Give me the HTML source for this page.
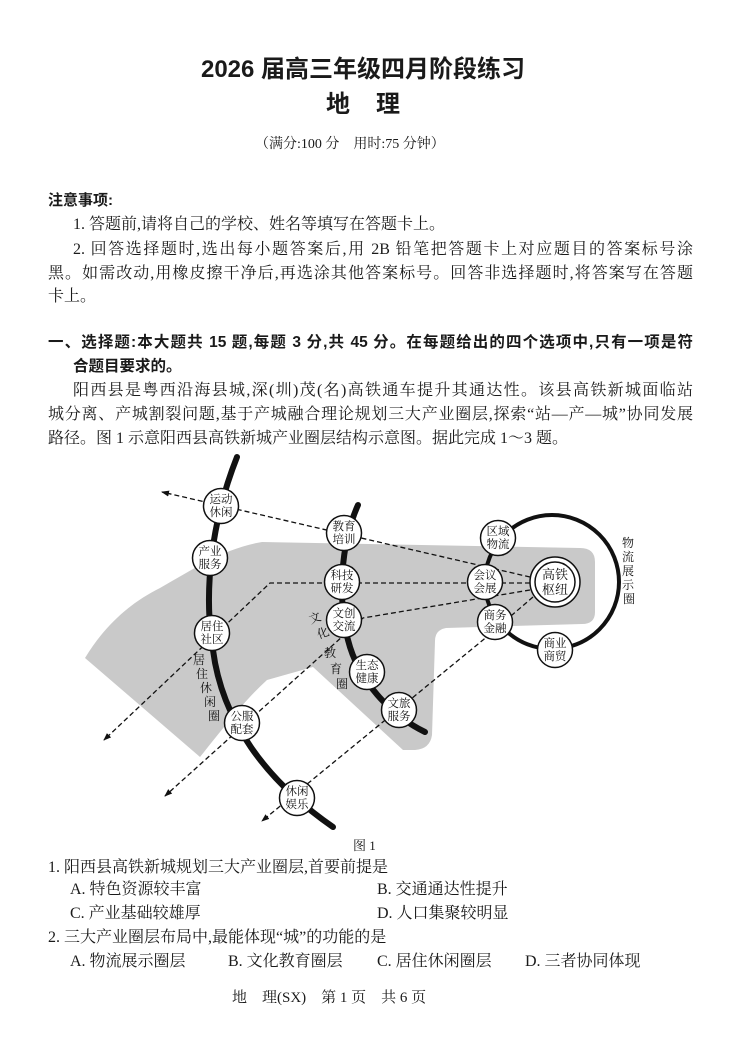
<!DOCTYPE html>
<html><head><meta charset="utf-8">
<style>
html,body{margin:0;padding:0;background:#fff;}
body{width:749px;height:1043px;position:relative;overflow:hidden;color:#1a1a1a;
font-family:"Liberation Serif","Noto Serif CJK SC",serif;font-size:16px;}
.t{position:absolute;line-height:22px;white-space:nowrap;}
.j{text-align:justify;text-align-last:justify;white-space:normal;height:22px;overflow:hidden;}
.b{font-family:"Liberation Sans","Noto Sans CJK SC",sans-serif;font-weight:bold;}
svg{position:absolute;left:0;top:0;}
svg text{font-family:"Liberation Serif","Noto Serif CJK SC",serif;fill:#111;}
</style></head><body>
<div class="t b" style="left:197px;top:56px;width:332px;font-size:24px;line-height:28px;text-align:center;">2026 届高三年级四月阶段练习</div>
<div class="t b" style="left:326px;top:91px;font-size:24px;line-height:28px;letter-spacing:26px;">地理</div>
<div class="t" style="left:255px;top:134px;font-size:14px;">（满分:100 分　用时:75 分钟）</div>

<div class="t b" style="left:48px;top:190px;font-size:15px;">注意事项:</div>
<div class="t" style="left:73px;top:214px;">1. 答题前,请将自己的学校、姓名等填写在答题卡上。</div>
<div class="t j" style="left:73px;top:239px;width:620px;">2. 回答选择题时,选出每小题答案后,用 2B 铅笔把答题卡上对应题目的答案标号涂</div>
<div class="t j" style="left:48px;top:263px;width:645px;">黑。如需改动,用橡皮擦干净后,再选涂其他答案标号。回答非选择题时,将答案写在答题</div>
<div class="t" style="left:48px;top:286px;">卡上。</div>

<div class="t j b" style="left:48px;top:332px;width:645px;font-size:15.5px;">一、选择题:本大题共 15 题,每题 3 分,共 45 分。在每题给出的四个选项中,只有一项是符</div>
<div class="t b" style="left:73px;top:356px;font-size:15.5px;">合题目要求的。</div>
<div class="t j" style="left:73px;top:380px;width:620px;">阳西县是粤西沿海县城,深(圳)茂(名)高铁通车提升其通达性。该县高铁新城面临站</div>
<div class="t j" style="left:48px;top:404px;width:645px;">城分离、产城割裂问题,基于产城融合理论规划三大产业圈层,探索“站—产—城”协同发展</div>
<div class="t" style="left:48px;top:428px;">路径。图 1 示意阳西县高铁新城产业圈层结构示意图。据此完成 1～3 题。</div>

<svg width="749" height="1043" viewBox="0 0 749 1043">
<defs>
<marker id="ah" markerWidth="8" markerHeight="8" refX="7" refY="4" orient="auto" markerUnits="userSpaceOnUse">
<path d="M0,1 L8,4 L0,7 Z" fill="#111"/></marker>
</defs>
<path d="M85,658 C105,625 130,603 160,588 C195,568 225,548 262,542 L580,548 Q595,548 595,562 L595,612 Q595,624 582,624 L446,628 Q435,630 435,641 L432,735 Q430,749 415,750 L403,750 L313,667 L267,680 C245,700 228,722 200,757 Z" fill="#c9c9c9"/>
<g stroke="#111" stroke-width="1.3" stroke-dasharray="5 3" fill="none">
<path d="M530,577 L162,492" marker-end="url(#ah)"/>
<path d="M530,583 L270,583 L104,740" marker-end="url(#ah)"/>
<path d="M530,590 L363,618 L165,796" marker-end="url(#ah)"/>
<path d="M533,597 L483,640 L262,821" marker-end="url(#ah)"/>
</g>
<g stroke="#111" stroke-width="6" fill="none" stroke-linecap="round">
<path d="M237,457 C212,520 203,590 213,650 C222,720 265,780 333,827"/>
<path d="M358,505 C340,545 338,600 348,640 C358,680 390,715 425,732"/>
</g>
<circle cx="552" cy="582" r="67" fill="none" stroke="#111" stroke-width="4"/>
<g stroke="#111" stroke-width="1.5" fill="#fff">
<circle cx="221" cy="506" r="17.5"/><circle cx="210" cy="558" r="17.5"/>
<circle cx="212" cy="633" r="17.5"/><circle cx="242" cy="723" r="17.5"/>
<circle cx="297" cy="798" r="17.5"/><circle cx="344" cy="533" r="17.5"/>
<circle cx="342" cy="582" r="17.5"/><circle cx="344" cy="620" r="17.5"/>
<circle cx="367" cy="672" r="17.5"/><circle cx="399" cy="710" r="17.5"/>
<circle cx="498" cy="538" r="17.5"/><circle cx="485" cy="582" r="17.5"/>
<circle cx="495" cy="622" r="17.5"/><circle cx="555" cy="650" r="17.5"/>
<circle cx="555" cy="582" r="25"/><circle cx="555" cy="582" r="20"/>
</g>
<g font-size="11.5" text-anchor="middle">
<text x="221" y="503">运动</text><text x="221" y="516">休闲</text>
<text x="210" y="555">产业</text><text x="210" y="568">服务</text>
<text x="212" y="630">居住</text><text x="212" y="643">社区</text>
<text x="242" y="720">公服</text><text x="242" y="733">配套</text>
<text x="297" y="795">休闲</text><text x="297" y="808">娱乐</text>
<text x="344" y="530">教育</text><text x="344" y="543">培训</text>
<text x="342" y="579">科技</text><text x="342" y="592">研发</text>
<text x="344" y="617">文创</text><text x="344" y="630">交流</text>
<text x="367" y="669">生态</text><text x="367" y="682">健康</text>
<text x="399" y="707">文旅</text><text x="399" y="720">服务</text>
<text x="498" y="535">区域</text><text x="498" y="548">物流</text>
<text x="485" y="579">会议</text><text x="485" y="592">会展</text>
<text x="495" y="619">商务</text><text x="495" y="632">金融</text>
<text x="555" y="647">商业</text><text x="555" y="660">商贸</text>
</g>
<g font-size="13" text-anchor="middle">
<text x="555" y="579">高铁</text><text x="555" y="594">枢纽</text>
</g>
<g font-size="12" text-anchor="middle">
<text x="199" y="664">居</text><text x="202" y="678">住</text><text x="206" y="692">休</text><text x="210" y="706">闲</text><text x="214" y="720">圈</text>
<text x="315" y="622" transform="rotate(-20 315 618)">文</text><text x="323" y="637" transform="rotate(-20 323 633)">化</text>
<text x="330" y="657">教</text><text x="336" y="673">育</text><text x="342" y="688">圈</text>
<text x="628" y="547">物</text><text x="628" y="561">流</text><text x="628" y="575">展</text><text x="628" y="589">示</text><text x="629" y="603">圈</text>
</g>
</svg>

<div class="t" style="left:353px;top:835px;font-size:13px;">图 1</div>
<div class="t" style="left:48px;top:857px;">1. 阳西县高铁新城规划三大产业圈层,首要前提是</div>
<div class="t" style="left:70px;top:879px;">A. 特色资源较丰富</div>
<div class="t" style="left:377px;top:879px;">B. 交通通达性提升</div>
<div class="t" style="left:70px;top:903px;">C. 产业基础较雄厚</div>
<div class="t" style="left:377px;top:903px;">D. 人口集聚较明显</div>
<div class="t" style="left:48px;top:927px;">2. 三大产业圈层布局中,最能体现“城”的功能的是</div>
<div class="t" style="left:70px;top:951px;">A. 物流展示圈层</div>
<div class="t" style="left:228px;top:951px;">B. 文化教育圈层</div>
<div class="t" style="left:377px;top:951px;">C. 居住休闲圈层</div>
<div class="t" style="left:525px;top:951px;">D. 三者协同体现</div>
<div class="t" style="left:232px;top:987px;font-size:15px;">地　理(SX)　第 1 页　共 6 页</div>
</body></html>
